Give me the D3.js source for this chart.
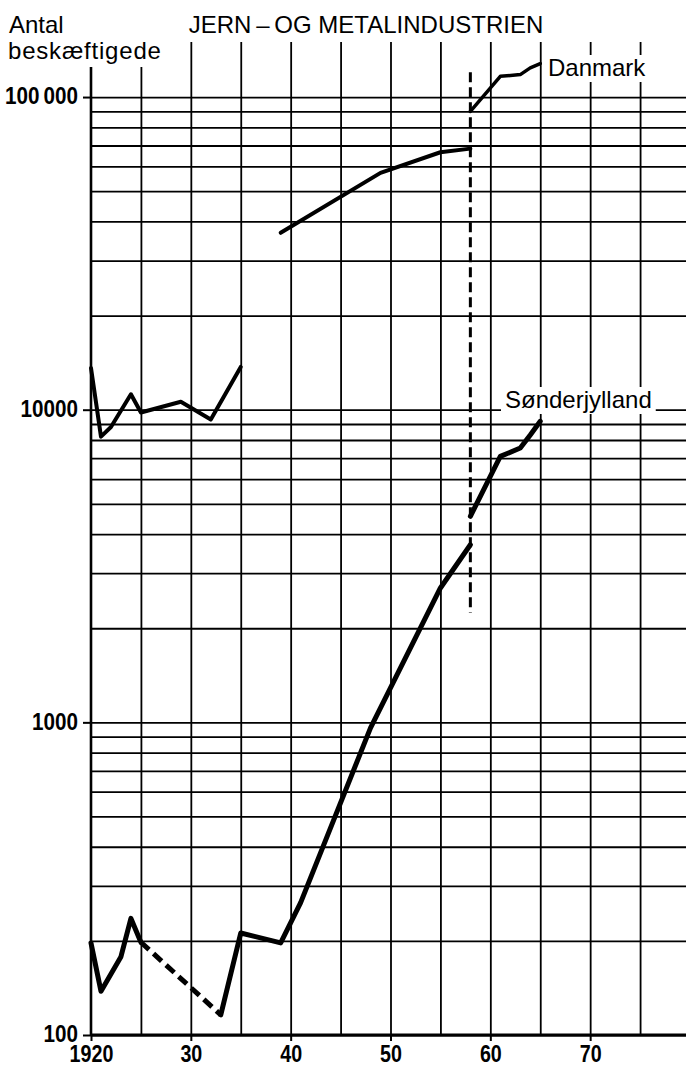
<!DOCTYPE html>
<html>
<head>
<meta charset="utf-8">
<script src="https://cdn.jsdelivr.net/npm/d3@7"></script>
<style>
  html, body { margin: 0; padding: 0; background: #fff; }
  svg { display: block; }
  .num { font-family: "Liberation Sans", Arial, Helvetica, sans-serif; font-weight: bold; font-size: 24px; fill: #000; }
  .txt { font-family: "Liberation Sans", Arial, Helvetica, sans-serif; font-size: 24px; fill: #000; }
</style>
</head>
<body>
<svg id="chart" width="686" height="1067"></svg>
<script>
// Employment in the iron and metal industry (log scale)
const title = "JERN\u2009\u2013\u2009OG METALINDUSTRIEN";
const yTitle = ["Antal", "beskæftigede"];

const xTickYears = [1920, 1930, 1940, 1950, 1960, 1970];
const xTickLabels = ["1920", "30", "40", "50", "60", "70"];
const gridYears = [1925, 1930, 1935, 1940, 1945, 1950, 1955, 1960, 1965, 1970, 1975];
const yTickValues = [100, 1000, 10000, 100000];
const yTickLabels = ["100", "1000", "10000", "100\u2009000"];

// Danmark
const danmark1 = [
  {year: 1920, value: 13600}, {year: 1921, value: 8200}, {year: 1922, value: 8800},
  {year: 1924, value: 11200}, {year: 1925, value: 9800}, {year: 1929, value: 10600},
  {year: 1932, value: 9300}, {year: 1935, value: 13700}
];
const danmark2 = [
  {year: 1939, value: 36800}, {year: 1949, value: 57200},
  {year: 1955, value: 66600}, {year: 1958, value: 68400}
];
const danmark3 = [
  {year: 1958, value: 90000}, {year: 1961, value: 116500}, {year: 1963, value: 118000},
  {year: 1964, value: 124000}, {year: 1965, value: 128000}
];

// Sønderjylland
const sonder1 = [
  {year: 1920, value: 197}, {year: 1921, value: 138}, {year: 1923, value: 178},
  {year: 1924, value: 236}, {year: 1925, value: 198}
];
const sonderGap = [{year: 1925, value: 198}, {year: 1933, value: 116}];
const sonder2 = [
  {year: 1933, value: 116}, {year: 1935, value: 212}, {year: 1939, value: 197},
  {year: 1941, value: 265}, {year: 1948, value: 960}, {year: 1955, value: 2690},
  {year: 1958, value: 3700}
];
const sonder3 = [
  {year: 1958, value: 4560}, {year: 1961, value: 7090}, {year: 1963, value: 7540},
  {year: 1964, value: 8300}, {year: 1965, value: 9180}
];

// break in the statistics
const breakYear = 1958;
const breakSpan = [2240, 120000];

const svg = d3.select("#chart");
const plotLeft = 91, plotRight = 686, plotBottom = 1035, plotTop = 42;

const x = d3.scaleLinear().domain([1920, 1979.6]).range([plotLeft, plotRight]);
const y = d3.scaleLog().domain([100, 150000]).range([plotBottom, plotTop]);

// narrow the bold figures to a condensed look
function condense(sel, factor) {
  sel.each(function () {
    const w = this.getComputedTextLength();
    d3.select(this).attr("textLength", w * factor).attr("lengthAdjust", "spacingAndGlyphs");
  });
}

// horizontal grid
svg.append("g")
  .attr("transform", `translate(${plotLeft},0)`)
  .call(d3.axisLeft(y).tickValues(y.ticks()).tickSize(-(plotRight - plotLeft)).tickFormat(""))
  .call(g => g.select(".domain").remove())
  .call(g => g.selectAll("line").attr("stroke", "#000").attr("stroke-width", 1.8));

// vertical grid
svg.append("g")
  .attr("transform", `translate(0,${plotBottom})`)
  .call(d3.axisBottom(x).tickValues(gridYears).tickSize(-(plotBottom - plotTop)).tickFormat(""))
  .call(g => g.select(".domain").remove())
  .call(g => g.selectAll("line").attr("stroke", "#000").attr("stroke-width", 1.8));

// axes
const yAxis = svg.append("g")
  .attr("transform", `translate(${plotLeft},0)`)
  .call(d3.axisLeft(y).tickValues(yTickValues).tickSize(8).tickPadding(5)
    .tickFormat((d, i) => yTickLabels[i]));
yAxis.attr("font-size", null).attr("font-family", null);
yAxis.select(".domain").attr("d", `M0,${plotTop}V${plotBottom}`).attr("stroke", "#000").attr("stroke-width", 2.6);
yAxis.selectAll(".tick line").attr("stroke", "#000").attr("stroke-width", 2);
yAxis.selectAll(".tick text").attr("class", "num").attr("dy", "0.28em").call(condense, 0.86);

const xAxis = svg.append("g")
  .attr("transform", `translate(0,${plotBottom})`)
  .call(d3.axisBottom(x).tickValues(xTickYears).tickSize(6).tickPadding(4)
    .tickFormat((d, i) => xTickLabels[i]));
xAxis.attr("font-size", null).attr("font-family", null);
xAxis.select(".domain").attr("d", `M${plotLeft},0H${plotRight}`).attr("stroke", "#000").attr("stroke-width", 2.8);
xAxis.selectAll(".tick line").attr("stroke", "#000").attr("stroke-width", 2);
xAxis.selectAll(".tick text").attr("class", "num").attr("dy", "0.72em").call(condense, 0.82);

// white area behind the axis title
svg.append("rect").attr("x", 0).attr("y", 0).attr("width", 170).attr("height", 67).attr("fill", "#fff");

svg.append("text").attr("class", "txt").attr("x", 9).attr("y", 33).text(yTitle[0]);
svg.append("text").attr("class", "txt").attr("x", 8).attr("y", 59)
  .attr("letter-spacing", 0.8).text(yTitle[1]);
svg.append("text").attr("class", "txt").attr("x", 366).attr("y", 33)
  .attr("text-anchor", "middle").text(title);

// divider for the statistics break
svg.append("line")
  .attr("x1", x(breakYear)).attr("x2", x(breakYear))
  .attr("y1", y(breakSpan[1])).attr("y2", y(breakSpan[0]))
  .attr("stroke", "#000").attr("stroke-width", 3).attr("stroke-dasharray", "10 5");

const line = d3.line().x(d => x(d.year)).y(d => y(d.value));

function drawSeries(data, width, dash) {
  svg.append("path").datum(data)
    .attr("d", line)
    .attr("fill", "none")
    .attr("stroke", "#000")
    .attr("stroke-width", width)
    .attr("stroke-linejoin", "round")
    .attr("stroke-linecap", dash ? "butt" : "round")
    .attr("stroke-dasharray", dash || null);
}

drawSeries(danmark1, 4);
drawSeries(danmark2, 4);
drawSeries(danmark3, 3.5);
drawSeries(sonder1, 5);
drawSeries(sonderGap, 5, "11 6");
drawSeries(sonder2, 5);
drawSeries(sonder3, 5);

// series labels with white background
function seriesLabel(text, xPos, yPos) {
  const g = svg.append("g");
  const t = g.append("text").attr("class", "txt").attr("x", xPos).attr("y", yPos).text(text);
  const b = t.node().getBBox();
  g.insert("rect", "text")
    .attr("x", b.x - 4).attr("y", b.y + 1)
    .attr("width", b.width + 8).attr("height", b.height)
    .attr("fill", "#fff");
}
seriesLabel("Danmark", 548, 76);
seriesLabel("Sønderjylland", 505, 408);
</script>
</body>
</html>
